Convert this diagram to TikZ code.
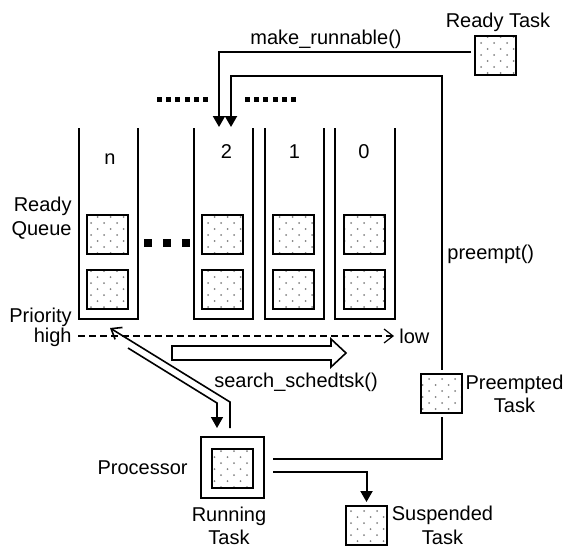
\documentclass[tikz,border=0pt]{standalone}
\usepackage{fontspec}
\setmainfont{Liberation Sans}
\usetikzlibrary{arrows.meta,patterns}
\pgfdeclarepatternformonly{sparsedots}{\pgfpoint{-1pt}{-1pt}}{\pgfpoint{7.5pt}{7pt}}{\pgfpoint{6.5pt}{6pt}}{%
  \pgfpathcircle{\pgfpoint{0pt}{0pt}}{0.5pt}%
  \pgfpathcircle{\pgfpoint{3.25pt}{3pt}}{0.5pt}%
  \pgfusepath{fill}}
\begin{document}
\begin{tikzpicture}[x=0.5pt,y=-0.5pt,
  ln/.style={line width=1pt},
  thin ln/.style={line width=0.8pt},
  task/.style={draw, line width=1pt, minimum width=20.5pt, minimum height=19.5pt,
    inner sep=0pt, outer sep=2pt, pattern=sparsedots, pattern color=black!50},
  proc/.style={draw, line width=1pt, minimum width=31.5pt, minimum height=30.5pt,
    inner sep=0pt, outer sep=4.5pt},
  lbl/.style={inner sep=0pt, font=\fontsize{10}{11.8}\selectfont},
  tri/.style={-{Triangle[length=5.5pt,width=6pt]}},
  barb/.style={-{Straight Barb[length=4.5pt,width=7pt]}},
]
\useasboundingbox (0,0) rectangle (566,547);

% ready queues (open at top)
\foreach \l/\r in {79/138,194/253,265/324,335/395}
  \draw[ln] (\l,128) -- (\l,319) -- (\r,319) -- (\r,128);

\node[lbl,anchor=base] (qn) at (110,164) {n};
\node[lbl,anchor=base] (q2) at (226.5,158) {2};
\node[lbl,anchor=base] (q1) at (294.5,158) {1};
\node[lbl,anchor=base] (q0) at (364,158) {0};

% tasks in queues
\node[task] (tn1) at (107.5,234.5) {};
\node[task] (tn2) at (107.5,289) {};
\node[task] (t21) at (222.5,234.5) {};
\node[task] (t22) at (222.5,289) {};
\node[task] (t11) at (293.5,234.5) {};
\node[task] (t12) at (293.5,289) {};
\node[task] (t01) at (364.5,234.5) {};
\node[task] (t02) at (364.5,289) {};

% ellipsis squares
\foreach \x in {148,167,186}
  \fill (\x-4.25,238.75) rectangle (\x+4.25,247.25);
\foreach \i in {0,...,5} {
  \fill ({157+9.2*\i},96.5) rectangle ++(5,5);
  \fill ({245+9.2*\i},96.5) rectangle ++(5,5);
}

% labels left
\node[lbl,align=right,anchor=east] (rq) at (72,218) {Ready\\Queue};
\node[lbl,anchor=base east] (prio) at (72,322) {Priority};
\node[lbl,anchor=base east] (high) at (72,342) {high};
\node[lbl,anchor=base west] (low) at (399,343) {low};

% priority dashed arrow
\coordinate (hi) at (78,336);
\coordinate (lo) at (394,336);
\draw[line width=0.6pt, dash pattern=on 3.5pt off 2pt, barb] (hi) -- (lo);

% hollow search arrow
\draw[thin ln, fill=white] (172,346) -- (331,346) -- (331,339) -- (346,353)
  -- (331,367) -- (331,360) -- (172,360) -- cycle;
\node[lbl,anchor=mid] (ss) at (296,382) {search\_schedtsk()};

% ready task
\node[task] (ready) at (495.5,55) {};
\node[lbl,anchor=mid] (readylbl) at (498,22) {Ready Task};
\node[lbl,anchor=mid] (mr) at (326,39) {make\_runnable()};
\coordinate (a1) at (219,127);
\draw[ln,tri] ([yshift=1.5pt]ready.west) -| (a1);

% preempted task
\node[task] (pre) at (441.5,393) {};
\node[lbl,align=center] (prelbl) at (514.5,394) {Preempted\\Task};
\coordinate (b1) at (231,76);
\coordinate (a2) at (231,127);
\draw[ln,tri] (pre.north) |- (b1) -- (a2);
\node[lbl,anchor=mid west] (pm) at (447,254) {preempt()};

% processor
\node[proc] (proc) at (232.5,467.5) {};
\node[task] (run) at (232,468) {};
\node[lbl,anchor=mid east] (proclbl) at (188,469) {Processor};
\node[lbl,align=center] (runlbl) at (229,526) {Running\\Task};

\draw[ln] (proc.east |- 0,459) -| (pre.south);

% suspended task
\node[task] (susp) at (366.5,525.5) {};
\draw[ln,tri] (proc.east |- 0,472) -| (susp.north);
\node[lbl,align=center] (susplbl) at (442.5,525.5) {Suspended\\Task};

% dispatch / return diagonals
\coordinate (dA1) at (128,348);
\coordinate (dA2) at (217,403);
\draw[thin ln,tri] (dA1) -- (dA2) -- (proc.north -| 217,0);
\coordinate (dB1) at (110,328);
\coordinate (dB2) at (230,402);
\draw[thin ln,barb] (proc.north -| 230,0) -- (dB2) -- (dB1);
\end{tikzpicture}
\end{document}
